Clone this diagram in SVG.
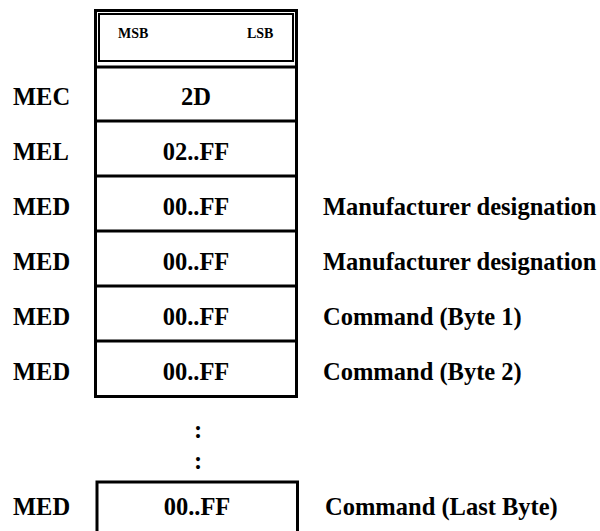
<svg xmlns="http://www.w3.org/2000/svg" width="600" height="531" viewBox="0 0 600 531">
<style>
text{font-family:"Liberation Serif","Times New Roman",serif;fill:#000;font-weight:bold}
.lbl{font-size:24.5px}
.val{font-size:24.5px;text-anchor:middle}
.desc{font-size:24.5px}
.hdr{font-size:14px}
.box{fill:none;stroke:#000;stroke-width:3}
.thin{fill:none;stroke:#000;stroke-width:2}
</style>
<rect width="600" height="531" fill="#fff"/>
<g id="header">
<rect class="box" x="95.5" y="10.5" width="201" height="386"/>
<rect class="thin" x="99" y="14" width="194" height="47"/>
<text class="hdr" x="118" y="38">MSB</text>
<text class="hdr" x="247" y="38">LSB</text>
</g>
<g id="connectors">
<line class="box" x1="95.5" y1="67" x2="296.5" y2="67"/>
<line class="box" x1="95.5" y1="121" x2="296.5" y2="121"/>
<line class="box" x1="95.5" y1="176" x2="296.5" y2="176"/>
<line class="box" x1="95.5" y1="231" x2="296.5" y2="231"/>
<line class="box" x1="95.5" y1="286" x2="296.5" y2="286"/>
<line class="box" x1="95.5" y1="341" x2="296.5" y2="341"/>
</g>
<g id="row-mec">
<text class="lbl" x="13" y="105">MEC</text>
<text class="val" x="196" y="105">2D</text>
</g>
<g id="row-mel">
<text class="lbl" x="13" y="160">MEL</text>
<text class="val" x="196" y="160">02..FF</text>
</g>
<g id="row-med1">
<text class="lbl" x="13" y="215">MED</text>
<text class="val" x="196" y="215">00..FF</text>
<text class="desc" x="323" y="215">Manufacturer designation</text>
</g>
<g id="row-med2">
<text class="lbl" x="13" y="270">MED</text>
<text class="val" x="196" y="270">00..FF</text>
<text class="desc" x="323" y="270">Manufacturer designation</text>
</g>
<g id="row-med3">
<text class="lbl" x="13" y="325">MED</text>
<text class="val" x="196" y="325">00..FF</text>
<text class="desc" x="323" y="325">Command (Byte 1)</text>
</g>
<g id="row-med4">
<text class="lbl" x="13" y="380">MED</text>
<text class="val" x="196" y="380">00..FF</text>
<text class="desc" x="323" y="380">Command (Byte 2)</text>
</g>
<g id="ellipsis">
<text class="val" x="198" y="438">:</text>
<text class="val" x="198" y="469">:</text>
</g>
<g id="row-last">
<path class="box" d="M97 535 V482 H297.5 V535"/>
<text class="lbl" x="13" y="515">MED</text>
<text class="val" x="197" y="515">00..FF</text>
<text class="desc" x="325" y="515">Command (Last Byte)</text>
</g>
</svg>
